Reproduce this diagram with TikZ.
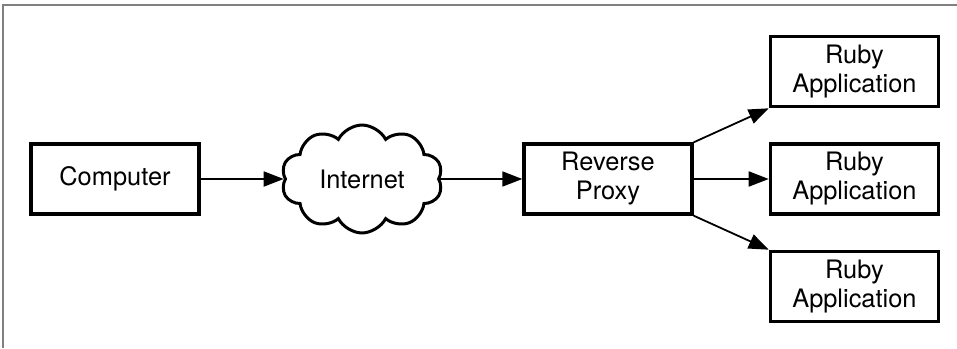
\documentclass[tikz,border=0pt]{standalone}
\usepackage{fontspec}
\setmainfont{TeX Gyre Heros}
\usetikzlibrary{arrows.meta,positioning,shapes.symbols}

\begin{document}
\begin{tikzpicture}[x=1pt,y=1pt,>={Triangle[length=10pt,width=7.5pt]},node distance=17pt,align=center,
		font=\fontsize{12.7}{14.5}\selectfont,
		box/.style={draw,line width=1.7pt,minimum width=84pt,minimum height=35pt,inner sep=0pt},
		net/.style={draw,cloud,cloud puffs=10,cloud puff arc=125,cloud ignores aspect,line width=1.5pt,inner xsep=5.7pt,inner ysep=10pt},
		link/.style={->,line width=0.9pt}]
		\useasboundingbox (0,0) rectangle (478.5,-174);
		\draw[gray,line width=0.6pt] (1.5,-174) |- (478.5,-2.5);
		\node[box] (comp) at (57.5,-89.5) {Computer};
		\node[net] [right=41.5pt of comp] (inet) {Internet};
		\node[box] [right=41pt of inet] (proxy) {Reverse\\Proxy};
		\node[box] [right=37.5pt of proxy] (app_2) {Ruby\\Application};
		\node[box] [above=of app_2] (app_1) {Ruby\\Application};
		\node[box] [below=of app_2] (app_3) {Ruby\\Application};
		\path[link]
			(comp) edge (inet)
			(inet) edge (proxy)
			(proxy.north east) edge (app_1.south west)
			(proxy) edge (app_2)
			(proxy.south east) edge (app_3.north west);
	\end{tikzpicture}
\end{document}
